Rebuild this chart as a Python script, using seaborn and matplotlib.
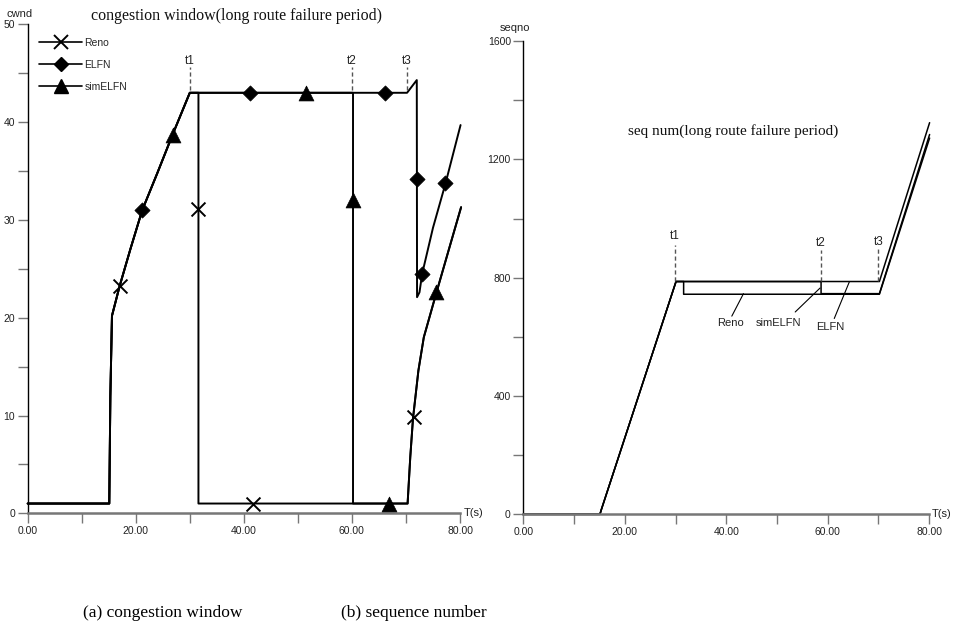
import numpy as np
import pandas as pd
import matplotlib
matplotlib.use("Agg")
import matplotlib.pyplot as plt
import seaborn as sns
from matplotlib.lines import Line2D
from matplotlib.ticker import MultipleLocator, FormatStrFormatter

# ---------------- data: (a) congestion window ----------------
rise_t = [0, 15.1, 15.3, 15.6, 17.0, 19.0, 21.2, 24.0, 26.8, 30.0]
rise_cwnd = [1, 1, 12, 20.2, 23.2, 27.0, 31.0, 34.8, 38.7, 43.0]

reno_t = rise_t + [31.6, 31.6, 70.3, 70.8, 71.3, 72.3, 73.3, 75.6, 78.0, 80.2]
reno_cwnd = rise_cwnd + [43, 1, 1, 5.8, 9.7, 14.6, 18.0, 22.5, 27.1, 31.3]

elfn_t = rise_t + [70.2, 72.0, 72.05, 72.5, 73.0, 75.0, 77.3, 80.1]
elfn_cwnd = rise_cwnd + [43, 44.3, 22.1, 22.6, 24.5, 29.2, 33.7, 39.7]

simelfn_t = rise_t + [60.2, 60.2, 70.3, 70.8, 71.3, 72.3, 73.3, 75.6, 78.0, 80.2]
simelfn_cwnd = rise_cwnd + [43, 1, 1, 5.8, 9.7, 14.6, 18.0, 22.5, 27.1, 31.3]

# marker positions
reno_mk_t = [17.0, 31.6, 41.7, 71.4]
reno_mk_cwnd = [23.2, 31.1, 1.0, 9.8]
elfn_mk_t = [21.2, 41.2, 66.2, 72.0, 73.0, 77.3]
elfn_mk_cwnd = [31.0, 43.0, 43.0, 34.2, 24.5, 33.8]
simelfn_mk_t = [26.8, 51.5, 60.2, 66.8, 75.5]
simelfn_mk_cwnd = [38.7, 43.0, 32.0, 1.0, 22.6]

# event marks t1, t2, t3
ev_labels = ["t1", "t2", "t3"]
ev_t_a = [30.0, 60.0, 70.2]
ev_t_b = [29.8, 58.7, 70.0]

# ---------------- data: (b) sequence number ----------------
seq_rise_t = [0, 15.1, 15.3, 30.1]
seq_rise_v = [0, 0, 12, 787]
seq_reno_t = seq_rise_t + [31.6, 31.6, 70.2, 80.1]
seq_reno_v = seq_rise_v + [787, 744, 744, 1272]
seq_sim_t = seq_rise_t + [58.7, 58.7, 70.2, 80.1]
seq_sim_v = seq_rise_v + [787, 746, 746, 1284]
seq_elfn_t = seq_rise_t + [70.2, 80.1]
seq_elfn_v = seq_rise_v + [787, 1324]

series_names = ["Reno", "ELFN", "simELFN"]

# ---------------- style ----------------
sns.set_theme(style="ticks")
plt.rcParams['font.family'] = ['Liberation Sans', 'DejaVu Sans']
SERIF = ['Liberation Serif', 'DejaVu Serif']
AXGRAY = '#777777'

fig = plt.figure(figsize=(9.54, 6.32), dpi=100)
ax1 = fig.add_axes([0.029, 0.1878, 0.4532, 0.7737])
ax2 = fig.add_axes([0.5486, 0.1862, 0.4253, 0.7489])

def long_df(pairs):
    frames = []
    for name, t, v in pairs:
        frames.append(pd.DataFrame({"t": t, "v": v, "series": name,
                                    "order": np.arange(len(t))}))
    return pd.concat(frames, ignore_index=True)

df_a = long_df([("Reno", reno_t, reno_cwnd), ("ELFN", elfn_t, elfn_cwnd),
                ("simELFN", simelfn_t, simelfn_cwnd)])
df_b = long_df([("Reno", seq_reno_t, seq_reno_v), ("ELFN", seq_elfn_t, seq_elfn_v),
                ("simELFN", seq_sim_t, seq_sim_v)])

sns.lineplot(data=df_a, x="t", y="v", units="series", estimator=None, sort=False,
             color="black", lw=1.4, ax=ax1, clip_on=False, legend=False)
sns.lineplot(data=df_b, x="t", y="v", units="series", estimator=None, sort=False,
             color="black", lw=1.1, ax=ax2, clip_on=False, legend=False)

# markers on (a)
sns.scatterplot(x=reno_mk_t, y=reno_mk_cwnd, marker="x", s=100, color="black",
                linewidth=1.4, ax=ax1, clip_on=False, zorder=4)
sns.scatterplot(x=elfn_mk_t, y=elfn_mk_cwnd, marker="D", s=60, color="black",
                edgecolor="black", linewidth=0.5, ax=ax1, clip_on=False, zorder=4)
sns.scatterplot(x=simelfn_mk_t, y=simelfn_mk_cwnd, marker="^", s=115, color="black",
                edgecolor="black", linewidth=0.5, ax=ax1, clip_on=False, zorder=4)

# event dashed marks
for lab, t in zip(ev_labels, ev_t_a):
    ax1.plot([t, t], [43.3, 45.6], ls=(0, (3, 2)), color="#555555", lw=1.0, clip_on=False)
    ax1.text(t, 46.3, lab, ha="center", va="center", fontsize=8.5, color="#222222")
for lab, t, ytop, ylab in zip(ev_labels, ev_t_b, [910, 894, 897], [940, 918, 922]):
    ax2.plot([t, t], [789, ytop], ls=(0, (3, 2)), color="#555555", lw=1.0)
    ax2.text(t, ylab, lab, ha="center", va="center", fontsize=8.5, color="#222222")

# legend for (a)
handles = [
    Line2D([0], [0], color="black", lw=1.2, marker="x", markersize=10, markeredgewidth=1.4),
    Line2D([0], [0], color="black", lw=1.2, marker="D", markersize=7.5),
    Line2D([0], [0], color="black", lw=1.2, marker="^", markersize=10.5),
]
ax1.legend(handles, series_names, loc="upper left", bbox_to_anchor=(0.0412, 0.940),
           bbox_transform=fig.transFigure, frameon=False, fontsize=7.5,
           handlelength=4.1, handletextpad=0.25, labelspacing=1.15, borderpad=0,
           borderaxespad=0, numpoints=1)

# annotations for (b)
ann = [("Reno", 40.8, 648, (41.1, 670), (43.4, 746)),
       ("simELFN", 50.3, 648, (53.6, 684), (58.5, 765)),
       ("ELFN", 60.5, 634, (61.3, 662), (64.3, 787))]
for lab, tx, ty, p0, p1 in ann:
    ax2.plot([p0[0], p1[0]], [p0[1], p1[1]], color="black", lw=0.8)
    ax2.text(tx, ty, lab, ha="center", va="center", fontsize=8, color="#222222")

ax2.text(41.4, 1296, "seq num(long route failure period)", ha="center", va="center",
         family=SERIF, fontsize=11, color="#111111")

# axes styling
for ax, ymax, ymaj, ymin in ((ax1, 50, 10, 5), (ax2, 1600, 400, 200)):
    ax.set_xlim(0, 80)
    ax.set_ylim(0, ymax)
    ax.xaxis.set_major_locator(MultipleLocator(20))
    ax.xaxis.set_minor_locator(MultipleLocator(10))
    ax.xaxis.set_major_formatter(FormatStrFormatter('%.2f'))
    ax.yaxis.set_major_locator(MultipleLocator(ymaj))
    ax.yaxis.set_minor_locator(MultipleLocator(ymin))
    ax.tick_params(which="both", direction="out", length=7, width=1.0,
                   color=AXGRAY, labelsize=7.5, pad=2, labelcolor="#222222")
    ax.set_xlabel("")
    ax.set_ylabel("")
    for s in ("top", "right"):
        ax.spines[s].set_visible(False)
    ax.spines["left"].set_color("black")
    ax.spines["left"].set_linewidth(1.0)
    ax.spines["bottom"].set_color(AXGRAY)
    ax.spines["bottom"].set_linewidth(1.8)
    ax.text(80.6, 0, "T(s)", ha="left", va="center", fontsize=8, color="#222222",
            clip_on=False)
    ax.set_facecolor("white")

fig.text(0.021, 0.978, "cwnd", ha="center", va="center", fontsize=8, color="#222222")
fig.text(0.540, 0.956, "seqno", ha="center", va="center", fontsize=8, color="#222222")
fig.text(0.248, 0.975, "congestion window(long route failure period)", ha="center",
         va="center", family=SERIF, fontsize=11.5, color="#111111")
fig.text(0.171, 0.030, "(a) congestion window", ha="center", va="center",
         family=SERIF, fontsize=12.5, color="black")
fig.text(0.434, 0.030, "(b) sequence number", ha="center", va="center",
         family=SERIF, fontsize=12.5, color="black")

fig.savefig("out.png", dpi=100, facecolor="white")
